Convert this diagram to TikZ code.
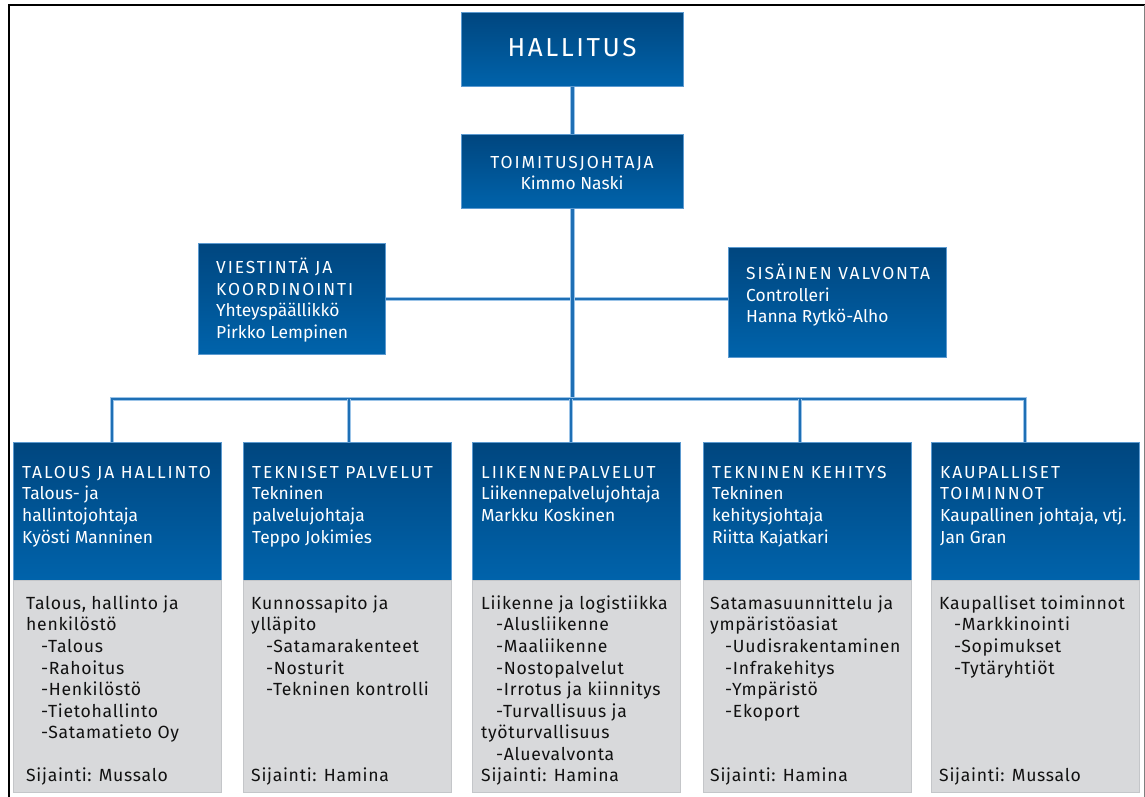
\documentclass[tikz,border=0pt]{standalone}
\usepackage{fontspec}
\setmainfont{Fira Sans}
\definecolor{bluetop}{HTML}{00467F}
\definecolor{bluebot}{HTML}{0063AB}
\definecolor{blueedge}{HTML}{5C9AD0}
\definecolor{grayfill}{HTML}{D8D9DB}
\definecolor{grayedge}{HTML}{C4C6C9}
\definecolor{connc}{HTML}{1E6FB5}
\definecolor{connl}{HTML}{9CC4E8}
\definecolor{txtdark}{HTML}{111111}
\newcommand\bodyfnt{\fontsize{17.4}{21.6}\selectfont}
\newcommand\grayfnt{\fontsize{17.6}{21.6}\selectfont\addfontfeature{LetterSpace=4}}
\newcommand\ttl[1]{{\addfontfeature{LetterSpace=11}#1}}
\newcommand\firstln{\rule{0pt}{15pt}}
\newcommand\ind{\hspace*{15pt}}
\begin{document}
\begin{tikzpicture}[x=1pt,y=-1pt,
  bluebox/.style={draw=blueedge, line width=0.6pt, top color=bluetop, bottom color=bluebot, anchor=north west, inner sep=0pt},
  graybox/.style={draw=grayedge, line width=0.6pt, fill=grayfill, anchor=north west, inner sep=0pt},
  wtxt/.style={anchor=north west, inner sep=0pt, align=left, font=\bodyfnt, text=white},
  gtxt/.style={anchor=north west, inner sep=0pt, align=left, font=\grayfnt, text=txtdark},
  conn/.style={draw=connc, line width=2.6pt, preaction={draw=connl, line width=4.4pt}}]
\useasboundingbox (0,0) rectangle (1145,796);
\fill[white] (0,0) rectangle (1145,796);
\draw[line width=2pt] (9,797) -- (9,5) -- (1146,5);
\draw[gray, line width=1pt] (1144,5) -- (1144,797);

% top boxes
\node[bluebox, minimum width=222pt, minimum height=74pt] (hal) at (461,12) {};
\node[bluebox, minimum width=222pt, minimum height=74pt] (toim) at (461,134) {};
\node[bluebox, minimum width=187pt, minimum height=111pt] (viest) at (198,243) {};
\node[bluebox, minimum width=218pt, minimum height=110pt] (sis) at (728,247) {};

\node[inner sep=0pt, text=white, font=\fontsize{26}{30}\selectfont] (halt) at (572,48) {{\addfontfeature{LetterSpace=10}HALLITUS}};
\node[inner sep=0pt, text=white, font=\bodyfnt, align=center, anchor=north] (toimt) at (572,153) {\firstln\ttl{TOIMITUSJOHTAJA}\\Kimmo Naski};
\node[wtxt] (viestt) at (216,258) {\firstln\ttl{VIESTINTÄ JA}\\\ttl{KOORDINOINTI}\\Yhteyspäällikkö\\Pirkko Lempinen};
\node[wtxt] (sist) at (746,264) {\firstln\ttl{SISÄINEN VALVONTA}\\Controlleri\\Hanna Rytkö-Alho};

% columns
\foreach \i/\x in {1/13, 2/243, 3/472, 4/703, 5/931}{
  \node[bluebox, minimum width=208pt, minimum height=138pt] (c\i) at (\x,442) {};
  \node[graybox, minimum width=208pt, minimum height=212pt] (g\i) at (\x,580) {};
}

\node[wtxt] (c1t) at (22,463) {\firstln\ttl{TALOUS JA HALLINTO}\\Talous- ja\\hallintojohtaja\\Kyösti Manninen};
\node[wtxt] (c2t) at (252,463) {\firstln\ttl{TEKNISET PALVELUT}\\Tekninen\\palvelujohtaja\\Teppo Jokimies};
\node[wtxt] (c3t) at (481,463) {\firstln\ttl{LIIKENNEPALVELUT}\\Liikennepalvelujohtaja\\Markku Koskinen};
\node[wtxt] (c4t) at (712,463) {\firstln\ttl{TEKNINEN KEHITYS}\\Tekninen\\kehitysjohtaja\\Riitta Kajatkari};
\node[wtxt] (c5t) at (940,463) {\firstln\ttl{KAUPALLISET}\\\ttl{TOIMINNOT}\\Kaupallinen johtaja, vtj.\\Jan Gran};

\node[gtxt] (g1t) at (26,594) {\firstln Talous, hallinto ja\\henkilöstö\\\ind-Talous\\\ind-Rahoitus\\\ind-Henkilöstö\\\ind-Tietohallinto\\\ind-Satamatieto Oy};
\node[gtxt] (g2t) at (251,594) {\firstln Kunnossapito ja\\ylläpito\\\ind-Satamarakenteet\\\ind-Nosturit\\\ind-Tekninen kontrolli};
\node[gtxt] (g3t) at (481,594) {\firstln Liikenne ja logistiikka\\\ind-Alusliikenne\\\ind-Maaliikenne\\\ind-Nostopalvelut\\\ind-Irrotus ja kiinnitys\\\ind-Turvallisuus ja\\työturvallisuus\\\ind-Aluevalvonta};
\node[gtxt] (g4t) at (710,594) {\firstln Satamasuunnittelu ja\\ympäristöasiat\\\ind-Uudisrakentaminen\\\ind-Infrakehitys\\\ind-Ympäristö\\\ind-Ekoport};
\node[gtxt] (g5t) at (939,594) {\firstln Kaupalliset toiminnot\\\ind-Markkinointi\\\ind-Sopimukset\\\ind-Tytäryhtiöt};

\node[gtxt, anchor=base west] (s1) at (26,781) {Sijainti: Mussalo};
\node[gtxt, anchor=base west] (s2) at (251,781) {Sijainti: Hamina};
\node[gtxt, anchor=base west] (s3) at (481,781) {Sijainti: Hamina};
\node[gtxt, anchor=base west] (s4) at (710,781) {Sijainti: Hamina};
\node[gtxt, anchor=base west] (s5) at (939,781) {Sijainti: Mussalo};

% connectors
\coordinate (busy) at (0,399);
\coordinate (d1) at (112,399);
\coordinate (d2) at (349,399);
\coordinate (d3) at (571,399);
\coordinate (d4) at (800,399);
\coordinate (d5) at (1025,399);
\draw[conn] (hal.south) -- (toim.north);
\draw[conn] (viest.east) -- (viest.east -| sis.west);
\draw[conn] (toim.south) -- (toim.south |- busy);
\draw[conn, line join=miter] (d1 |- c1.north) -- (d1) -- (d5) -- (d5 |- c5.north);
\draw[conn] (d2) -- (d2 |- c2.north);
\draw[conn] (d3) -- (d3 |- c3.north);
\draw[conn] (d4) -- (d4 |- c4.north);
\end{tikzpicture}
\end{document}
